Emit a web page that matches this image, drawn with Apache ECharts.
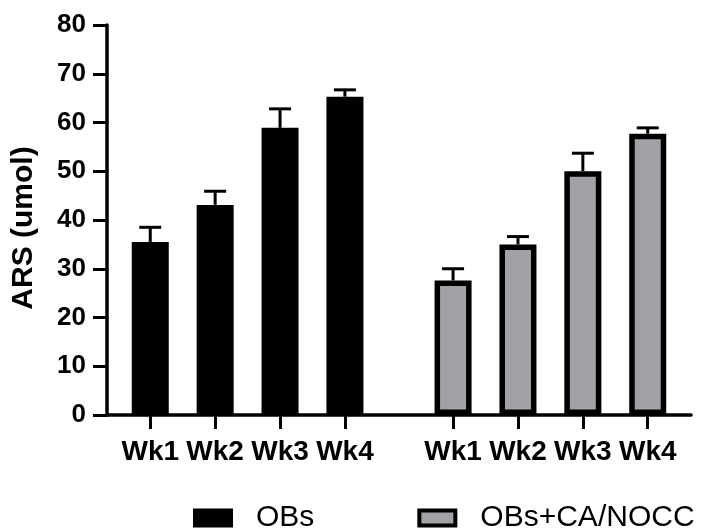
<!DOCTYPE html>
<html>
<head>
<meta charset="utf-8">
<script src="https://cdn.jsdelivr.net/npm/echarts@6/dist/echarts.min.js"></script>
<style>
  html, body { margin: 0; padding: 0; background: #fff; }
  #chart { width: 725px; height: 530px; }
</style>
</head>
<body>
<div id="chart"></div>
<script>
// Weekly ARS readings, mean with upper SEM error bar
const weeks = ['Wk1', 'Wk2', 'Wk3', 'Wk4'];
const groupNames = ['OBs', 'OBs+CA/NOCC'];
const obsMean = [35.5, 43.1, 58.9, 65.3];
const obsErr = [3.0, 2.8, 3.9, 1.4];
const caMean = [27.6, 35.0, 50.0, 57.7];
const caErr = [2.4, 1.6, 3.7, 1.2];
const yTicks = { min: 0, max: 80, interval: 10 };

// Slot layout on a fine-grained category axis: leading pad, spacing
// between weeks, spacing between groups and trailing pad.
const LEAD = 2, STEP = 3, GROUP_STEP = 5, TRAIL = 2;
const group1Slots = weeks.map((_, i) => LEAD + i * STEP);
const group2Slots = weeks.map((_, i) => group1Slots[weeks.length - 1] + GROUP_STEP + i * STEP);
const slotCount = group2Slots[weeks.length - 1] + TRAIL + 1;
const categories = new Array(slotCount).fill('');
group1Slots.forEach((s, i) => { categories[s] = weeks[i]; });
group2Slots.forEach((s, i) => { categories[s] = weeks[i]; });
// distinct keys for every slot so each category is unique
const categoryKeys = categories.map((c, i) => c === '' ? ' '.repeat(i + 1) : c + '#' + i);

const FONT = '"Liberation Sans", Arial, Helvetica, sans-serif';
const BAR_W = 37;
const BORDER = 5.5;

function barData(slots, means) {
  return slots.map((s, i) => [s, means[i]]);
}
function errData(slots, means, errs) {
  return slots.map((s, i) => [s, means[i], means[i] + errs[i]]);
}

function renderErr(params, api) {
  const x = api.value(0);
  const base = api.coord([x, api.value(1)]);
  const top = api.coord([x, api.value(2)]);
  const half = 11;
  const style = { stroke: '#000', lineWidth: 3, fill: null };
  return {
    type: 'group',
    children: [
      { type: 'line', shape: { x1: base[0], y1: base[1], x2: top[0], y2: top[1] }, style },
      { type: 'line', shape: { x1: top[0] - half, y1: top[1], x2: top[0] + half, y2: top[1] }, style }
    ]
  };
}

const chart = echarts.init(document.getElementById('chart'), null, { renderer: 'canvas' });

chart.setOption({
  backgroundColor: '#ffffff',
  animation: false,
  textStyle: { fontFamily: FONT },
  grid: { left: 107, right: 34, top: 25, bottom: 115, containLabel: false },
  legend: {
    left: 188,
    top: 498,
    icon: 'rect',
    itemWidth: 36,
    itemHeight: 15,
    itemGap: 103,
    textStyle: { fontFamily: FONT, fontSize: 30, color: '#000', padding: [0, 0, 0, 20] },
    data: [
      { name: groupNames[0], itemStyle: { color: '#000', borderColor: '#000', borderWidth: 4 } },
      { name: groupNames[1], itemStyle: { color: '#a2a1a6', borderColor: '#000', borderWidth: 4 } }
    ]
  },
  xAxis: {
    type: 'category',
    data: categoryKeys,
    boundaryGap: false,
    axisLine: { lineStyle: { color: '#000', width: 3.5 } },
    axisTick: {
      length: 14,
      lineStyle: { color: '#000', width: 3 },
      interval: (idx) => categories[idx] !== ''
    },
    axisLabel: {
      interval: (idx) => categories[idx] !== '',
      formatter: (val, idx) => categories[idx],
      margin: 23,
      color: '#000',
      fontFamily: FONT,
      fontWeight: 'bold',
      fontSize: 28
    },
    splitLine: { show: false }
  },
  yAxis: {
    type: 'value',
    min: yTicks.min,
    max: yTicks.max,
    interval: yTicks.interval,
    name: 'ARS (umol)',
    nameLocation: 'middle',
    nameRotate: 90,
    nameGap: 68,
    nameTextStyle: { fontFamily: FONT, fontWeight: 'bold', fontSize: 30, color: '#000', padding: [0, 16, 0, 0] },
    axisLine: { show: true, lineStyle: { color: '#000', width: 3.5 } },
    axisTick: { show: true, length: 14, lineStyle: { color: '#000', width: 3 } },
    axisLabel: { color: '#000', fontFamily: FONT, fontWeight: 'bold', fontSize: 26, margin: 21 },
    splitLine: { show: false }
  },
  series: [
    {
      name: groupNames[0],
      type: 'bar',
      barWidth: BAR_W,
      barGap: '-100%',
      itemStyle: { color: '#000', borderColor: '#000', borderWidth: BORDER },
      data: barData(group1Slots, obsMean),
      z: 2
    },
    {
      name: groupNames[1],
      type: 'bar',
      barWidth: BAR_W,
      barGap: '-100%',
      itemStyle: { color: '#a2a1a6', borderColor: '#000', borderWidth: BORDER },
      data: barData(group2Slots, caMean),
      z: 2
    },
    {
      type: 'custom',
      name: 'errOBs',
      renderItem: renderErr,
      data: errData(group1Slots, obsMean, obsErr),
      z: 3,
      silent: true
    },
    {
      type: 'custom',
      name: 'errCA',
      renderItem: renderErr,
      data: errData(group2Slots, caMean, caErr),
      z: 3,
      silent: true
    }
  ]
});
</script>
</body>
</html>
